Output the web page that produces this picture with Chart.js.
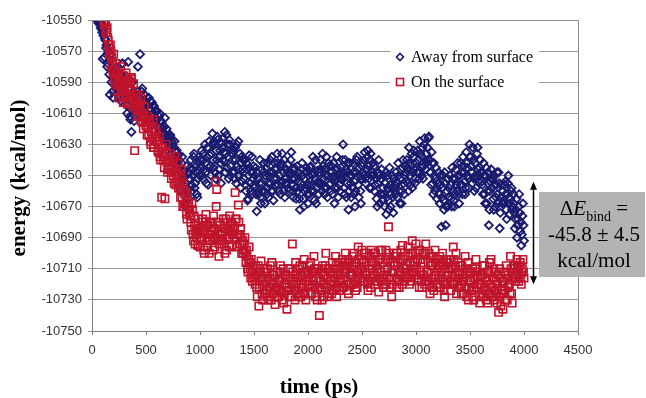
<!DOCTYPE html>
<html>
<head>
<meta charset="utf-8">
<script src="https://cdn.jsdelivr.net/npm/chart.js@4.4.1/dist/chart.umd.min.js"></script>
<style>
  html, body { margin: 0; padding: 0; background: #fff; }
  #wrap { width: 646px; height: 398px; }
</style>
</head>
<body>
<div id="wrap"><canvas id="energy" width="646" height="398"></canvas></div>
<script>
// axes
const xTicks = [0, 500, 1000, 1500, 2000, 2500, 3000, 3500, 4000, 4500];
const yTicks = [-10750, -10730, -10710, -10690, -10670, -10650, -10630, -10610, -10590, -10570, -10550];
const xTitle = 'time (ps)';
const yTitle = 'energy (kcal/mol)';

// sampling of both runs (ps)
const sampleStep = 5;

// "Away from surface" energies, one row per 100 ps, starting at 50 ps
const awayStart = 50;
const awayEnergy = [
  -10550, -10551, -10552, -10550, -10551, -10553, -10555, -10552, -10556, -10558, -10575,
  -10560, -10556, -10574, -10562, -10563, -10568, -10566, -10580, -10578, -10571, -10570, -10585, -10598, -10576, -10572, -10590, -10582, -10596, -10600, -10584,
  -10584, -10590, -10592, -10581, -10580, -10595, -10589, -10584, -10596, -10600, -10585, -10591, -10602, -10587, -10590, -10578, -10578, -10598, -10594, -10588,
  -10598, -10592, -10586, -10605, -10610, -10598, -10577, -10588, -10594, -10612, -10614, -10600, -10622, -10608, -10590, -10596, -10603, -10615, -10608, -10600,
  -10598, -10610, -10605, -10596, -10580, -10604, -10611, -10600, -10572, -10609, -10601, -10596, -10594, -10606, -10608, -10612, -10598, -10602, -10603, -10610,
  -10604, -10610, -10612, -10600, -10600, -10614, -10607, -10602, -10615, -10608, -10603, -10617, -10610, -10605, -10606, -10613, -10617, -10608, -10609, -10614,
  -10614, -10618, -10620, -10612, -10610, -10622, -10623, -10615, -10616, -10620, -10626, -10618, -10619, -10624, -10613, -10627, -10624, -10620, -10628, -10625,
  -10627, -10630, -10632, -10625, -10624, -10633, -10636, -10628, -10630, -10638, -10641, -10632, -10628, -10640, -10638, -10635, -10634, -10644, -10642, -10637,
  -10640, -10645, -10648, -10660, -10655, -10642, -10638, -10652, -10662, -10648, -10650, -10668, -10670, -10655, -10644, -10660, -10658, -10649, -10665, -10672,
  -10652, -10645, -10640, -10656, -10660, -10650, -10646, -10638, -10636, -10658, -10655, -10644, -10648, -10662, -10664, -10652, -10642, -10647, -10650, -10640,
  -10645, -10640, -10634, -10650, -10652, -10636, -10640, -10646, -10630, -10642, -10648, -10655, -10638, -10632, -10656, -10645, -10628, -10637, -10644, -10650,
  -10636, -10630, -10623, -10640, -10645, -10628, -10630, -10648, -10652, -10634, -10640, -10625, -10627, -10650, -10646, -10638, -10634, -10642, -10655, -10629,
  -10632, -10640, -10626, -10635, -10641, -10622, -10648, -10636, -10624, -10645, -10638, -10630, -10652, -10627, -10630, -10650, -10644, -10633, -10636, -10648,
  -10640, -10634, -10648, -10652, -10632, -10640, -10655, -10630, -10644, -10650, -10628, -10646, -10650, -10636, -10658, -10642, -10638, -10654, -10646, -10640,
  -10652, -10645, -10640, -10656, -10660, -10642, -10646, -10666, -10665, -10650, -10637, -10645, -10655, -10660, -10648, -10638, -10662, -10652, -10644, -10656,
  -10658, -10650, -10645, -10662, -10673, -10648, -10652, -10660, -10662, -10655, -10640, -10664, -10668, -10646, -10655, -10660, -10648, -10642, -10660, -10668,
  -10650, -10645, -10658, -10662, -10642, -10655, -10664, -10650, -10648, -10640, -10655, -10660, -10638, -10648, -10660, -10666, -10652, -10642, -10646, -10656,
  -10645, -10652, -10636, -10642, -10656, -10660, -10650, -10644, -10662, -10655, -10642, -10636, -10654, -10660, -10648, -10640, -10664, -10655, -10652, -10646,
  -10655, -10648, -10643, -10658, -10660, -10650, -10648, -10640, -10635, -10656, -10652, -10660, -10664, -10646, -10645, -10652, -10658, -10665, -10650, -10644,
  -10660, -10654, -10648, -10665, -10672, -10658, -10655, -10646, -10642, -10650, -10665, -10670, -10652, -10660, -10658, -10648, -10645, -10656, -10662, -10668,
  -10650, -10656, -10662, -10645, -10644, -10660, -10656, -10650, -10638, -10648, -10660, -10666, -10652, -10640, -10668, -10658, -10647, -10654, -10655, -10662,
  -10648, -10655, -10640, -10646, -10655, -10660, -10636, -10644, -10652, -10658, -10662, -10650, -10645, -10638, -10658, -10664, -10650, -10642, -10644, -10656,
  -10655, -10660, -10648, -10644, -10662, -10652, -10642, -10650, -10668, -10658, -10652, -10646, -10638, -10645, -10658, -10664, -10650, -10656, -10660, -10652,
  -10645, -10650, -10652, -10640, -10630, -10648, -10658, -10662, -10640, -10646, -10664, -10655, -10648, -10642, -10672, -10660, -10642, -10650, -10655, -10664,
  -10650, -10658, -10642, -10648, -10662, -10654, -10670, -10660, -10648, -10640, -10638, -10646, -10656, -10664, -10645, -10650, -10660, -10668, -10652, -10644,
  -10642, -10648, -10650, -10640, -10635, -10652, -10655, -10646, -10646, -10638, -10634, -10644, -10652, -10658, -10640, -10636, -10658, -10650, -10648, -10642,
  -10650, -10644, -10660, -10656, -10645, -10652, -10665, -10670, -10655, -10648, -10640, -10650, -10668, -10662, -10652, -10646, -10662, -10666, -10658, -10650,
  -10662, -10670, -10655, -10648, -10675, -10664, -10650, -10658, -10666, -10672, -10645, -10656, -10670, -10662, -10658, -10650, -10664, -10674, -10652, -10660,
  -10656, -10662, -10648, -10654, -10664, -10655, -10642, -10650, -10660, -10668, -10652, -10646, -10668, -10660, -10645, -10640, -10655, -10662, -10650, -10644,
  -10648, -10654, -10640, -10645, -10655, -10660, -10632, -10642, -10650, -10656, -10644, -10636, -10658, -10648, -10638, -10634, -10646, -10655, -10652, -10645,
  -10642, -10648, -10634, -10640, -10648, -10652, -10628, -10636, -10645, -10650, -10638, -10632, -10652, -10644, -10630, -10626, -10640, -10646, -10636, -10642,
  -10632, -10640, -10626, -10625, -10640, -10648, -10648, -10656, -10635, -10642, -10655, -10662, -10642, -10650, -10660, -10652, -10645, -10658, -10665, -10655,
  -10655, -10648, -10662, -10668, -10650, -10656, -10683, -10664, -10658, -10650, -10666, -10672, -10648, -10655, -10682, -10670, -10660, -10652, -10670, -10664,
  -10658, -10664, -10650, -10656, -10665, -10670, -10645, -10652, -10660, -10666, -10670, -10662, -10652, -10646, -10656, -10660, -10642, -10650, -10662, -10668,
  -10650, -10656, -10642, -10648, -10656, -10662, -10638, -10644, -10648, -10654, -10662, -10658, -10635, -10642, -10645, -10650, -10652, -10658, -10630, -10638,
  -10638, -10644, -10648, -10655, -10632, -10640, -10652, -10660, -10642, -10650, -10658, -10652, -10636, -10632, -10646, -10654, -10650, -10645, -10640, -10648,
  -10648, -10654, -10656, -10662, -10642, -10650, -10662, -10668, -10650, -10645, -10668, -10660, -10655, -10648, -10682, -10672, -10660, -10654, -10646, -10652,
  -10658, -10652, -10665, -10672, -10650, -10656, -10670, -10664, -10656, -10648, -10662, -10668, -10648, -10655, -10684, -10674, -10664, -10656, -10660, -10668,
  -10660, -10666, -10668, -10656, -10654, -10662, -10672, -10678, -10662, -10655, -10650, -10664, -10675, -10668, -10665, -10660, -10658, -10672, -10670, -10662,
  -10668, -10674, -10684, -10678, -10672, -10665, -10690, -10682, -10678, -10670, -10662, -10674, -10686, -10680, -10695, -10688, -10676, -10668, -10682, -10692
];

// "On the surface" energies, one row per 100 ps, starting at 110 ps
const onStart = 110;
const onEnergy = [
  -10550, -10552, -10553, -10551, -10558, -10556, -10555, -10561, -10563, -10566, -10568, -10572, -10566, -10570, -10574, -10580, -10578, -10584, -10572,
  -10582, -10588, -10590, -10578, -10585, -10592, -10596, -10584, -10588, -10600, -10600, -10590, -10580, -10596, -10593, -10586, -10598, -10603, -10586, -10592,
  -10592, -10598, -10584, -10590, -10598, -10604, -10589, -10595, -10603, -10594, -10595, -10588, -10587, -10600, -10600, -10606, -10591, -10598, -10634, -10605,
  -10602, -10598, -10608, -10612, -10598, -10604, -10612, -10606, -10605, -10600, -10615, -10610, -10610, -10616, -10620, -10612, -10606, -10614, -10614, -10618,
  -10618, -10624, -10612, -10620, -10624, -10615, -10616, -10628, -10630, -10622, -10620, -10626, -10614, -10632, -10632, -10622, -10626, -10620, -10622, -10628,
  -10628, -10634, -10635, -10630, -10625, -10638, -10640, -10632, -10664, -10636, -10632, -10640, -10638, -10645, -10665, -10640, -10630, -10636, -10642, -10648,
  -10640, -10646, -10646, -10640, -10636, -10648, -10652, -10645, -10644, -10640, -10650, -10655, -10638, -10646, -10656, -10650, -10648, -10654, -10642, -10658,
  -10650, -10655, -10658, -10664, -10646, -10652, -10664, -10670, -10655, -10660, -10670, -10662, -10660, -10668, -10675, -10678, -10662, -10670, -10668, -10674,
  -10672, -10676, -10680, -10685, -10668, -10672, -10688, -10692, -10676, -10682, -10694, -10688, -10682, -10690, -10686, -10695, -10678, -10684, -10690, -10696,
  -10684, -10690, -10692, -10680, -10678, -10686, -10698, -10700, -10686, -10680, -10675, -10682, -10690, -10696, -10682, -10688, -10700, -10692, -10688, -10680,
  -10680, -10686, -10690, -10698, -10676, -10684, -10696, -10690, -10654, -10670, -10659, -10680, -10686, -10692, -10702, -10694, -10682, -10688, -10692, -10686,
  -10688, -10692, -10678, -10684, -10694, -10700, -10684, -10678, -10698, -10690, -10680, -10686, -10690, -10696, -10676, -10682, -10686, -10680, -10695, -10688,
  -10682, -10688, -10690, -10684, -10661, -10678, -10678, -10690, -10696, -10688, -10669, -10680, -10688, -10694, -10684, -10690, -10700, -10694, -10692, -10700,
  -10698, -10694, -10690, -10700, -10706, -10698, -10702, -10710, -10712, -10704, -10696, -10706, -10710, -10716, -10704, -10712, -10718, -10710, -10708, -10716,
  -10715, -10720, -10708, -10714, -10722, -10728, -10712, -10708, -10734, -10722, -10718, -10712, -10705, -10716, -10726, -10730, -10716, -10710, -10720, -10726,
  -10718, -10712, -10724, -10728, -10710, -10716, -10730, -10722, -10716, -10708, -10722, -10730, -10706, -10714, -10726, -10720, -10714, -10722, -10733, -10724,
  -10722, -10728, -10712, -10718, -10728, -10724, -10718, -10712, -10708, -10716, -10725, -10730, -10716, -10710, -10732, -10726, -10720, -10714, -10714, -10722,
  -10736, -10724, -10716, -10710, -10722, -10728, -10710, -10716, -10728, -10720, -10694, -10712, -10718, -10724, -10724, -10730, -10706, -10714, -10720, -10726,
  -10716, -10710, -10722, -10728, -10708, -10714, -10728, -10722, -10714, -10708, -10720, -10726, -10704, -10712, -10726, -10730, -10718, -10712, -10712, -10720,
  -10714, -10708, -10720, -10726, -10706, -10712, -10726, -10720, -10712, -10718, -10702, -10710, -10722, -10728, -10716, -10710, -10730, -10722, -10710, -10716,
  -10740, -10722, -10718, -10712, -10724, -10730, -10708, -10714, -10728, -10720, -10714, -10708, -10700, -10710, -10722, -10728, -10716, -10710, -10726, -10720,
  -10712, -10718, -10720, -10726, -10706, -10712, -10724, -10718, -10716, -10710, -10702, -10708, -10728, -10722, -10714, -10706, -10718, -10724, -10710, -10716,
  -10716, -10722, -10708, -10704, -10722, -10716, -10712, -10706, -10700, -10710, -10718, -10724, -10710, -10704, -10726, -10720, -10706, -10712, -10714, -10720,
  -10708, -10702, -10714, -10720, -10700, -10706, -10718, -10724, -10706, -10712, -10722, -10716, -10696, -10704, -10712, -10718, -10716, -10710, -10704, -10698,
  -10712, -10718, -10706, -10700, -10718, -10712, -10700, -10706, -10714, -10720, -10724, -10718, -10708, -10702, -10716, -10722, -10698, -10706, -10710, -10716,
  -10706, -10700, -10714, -10720, -10700, -10708, -10718, -10712, -10710, -10704, -10725, -10716, -10704, -10698, -10712, -10718, -10698, -10706, -10716, -10722,
  -10714, -10720, -10704, -10698, -10720, -10714, -10710, -10704, -10683, -10700, -10716, -10722, -10706, -10712, -10728, -10720, -10712, -10706, -10700, -10708,
  -10708, -10702, -10716, -10722, -10700, -10706, -10712, -10718, -10722, -10714, -10704, -10698, -10714, -10720, -10695, -10704, -10710, -10716, -10718, -10712,
  -10702, -10708, -10710, -10716, -10696, -10702, -10714, -10720, -10706, -10700, -10718, -10712, -10692, -10700, -10708, -10714, -10712, -10706, -10700, -10694,
  -10710, -10716, -10704, -10698, -10716, -10722, -10698, -10704, -10712, -10718, -10722, -10714, -10706, -10700, -10714, -10720, -10700, -10694, -10718, -10712,
  -10712, -10718, -10706, -10700, -10720, -10726, -10702, -10708, -10716, -10722, -10708, -10702, -10724, -10716, -10698, -10706, -10714, -10720, -10710, -10704,
  -10716, -10722, -10708, -10702, -10722, -10716, -10712, -10706, -10700, -10708, -10718, -10724, -10728, -10720, -10710, -10704, -10714, -10720, -10706, -10712,
  -10710, -10704, -10718, -10724, -10704, -10710, -10714, -10720, -10696, -10704, -10720, -10714, -10708, -10700, -10726, -10718, -10712, -10706, -10716, -10722,
  -10714, -10708, -10720, -10726, -10708, -10714, -10726, -10718, -10716, -10722, -10702, -10710, -10722, -10728, -10712, -10706, -10730, -10722, -10718, -10712,
  -10718, -10712, -10724, -10728, -10710, -10716, -10730, -10722, -10716, -10710, -10704, -10712, -10722, -10716, -10714, -10720, -10728, -10732, -10720, -10714,
  -10720, -10726, -10714, -10708, -10728, -10722, -10708, -10716, -10724, -10730, -10718, -10712, -10732, -10726, -10712, -10706, -10726, -10720, -10704, -10712,
  -10722, -10728, -10716, -10710, -10730, -10724, -10712, -10718, -10726, -10732, -10720, -10714, -10738, -10728, -10710, -10716, -10734, -10726, -10724, -10718,
  -10736, -10726, -10718, -10712, -10724, -10730, -10708, -10716, -10730, -10722, -10714, -10720, -10720, -10726, -10702, -10710, -10726, -10732, -10716, -10710,
  -10714, -10708, -10708, -10716, -10718, -10712, -10704, -10710, -10712, -10718, -10716, -10708, -10706, -10714, -10720, -10712, -10710, -10704, -10712, -10716
];

const seriesNames = ['Away from surface', 'On the surface'];
const seriesColors = ['#1a1a6e', '#c0142c'];

// binding energy note and the arrow between the two plateaus
const bindValue = '-45.8 \u00b1 4.5';
const bindUnit = 'kcal/mol';
const arrowTime = 4080;
const arrowTop = -10654;
const arrowBottom = -10720;

function toPoints(start, values) {
  return values.map((v, i) => ({ x: start + i * sampleStep, y: v }));
}

Chart.defaults.font.family = '"Liberation Sans", Arial, sans-serif';
const serif = '"Liberation Serif", "Times New Roman", serif';

const extras = {
  id: 'extras',
  afterDraw(chart) {
    const { ctx, chartArea: a, scales: { x, y } } = chart;
    ctx.save();

    // plot area frame
    ctx.strokeStyle = '#8c8c8c';
    ctx.lineWidth = 1;
    ctx.beginPath();
    ctx.moveTo(a.left, a.top + 0.5);
    ctx.lineTo(a.right + 0.5, a.top + 0.5);
    ctx.lineTo(a.right + 0.5, a.bottom);
    ctx.stroke();

    // axis titles
    ctx.fillStyle = '#000';
    ctx.font = 'bold 21px ' + serif;
    ctx.textAlign = 'center';
    ctx.textBaseline = 'middle';
    ctx.fillText(xTitle, 319, 388);
    ctx.save();
    ctx.translate(20, 178);
    ctx.rotate(-Math.PI / 2);
    ctx.fillText(yTitle, 0, 0);
    ctx.restore();

    // legend
    ctx.fillStyle = '#fff';
    ctx.fillRect(390, 37, 149, 60);
    ctx.font = '16px ' + serif;
    ctx.textAlign = 'left';
    ctx.textBaseline = 'middle';
    const rows = [57, 82];
    ctx.lineWidth = 1.6;
    // diamond
    ctx.strokeStyle = seriesColors[0];
    ctx.beginPath();
    ctx.moveTo(400 - 3.5, rows[0]);
    ctx.lineTo(400, rows[0] - 3.5);
    ctx.lineTo(400 + 3.5, rows[0]);
    ctx.lineTo(400, rows[0] + 3.5);
    ctx.closePath();
    ctx.stroke();
    // square
    ctx.strokeStyle = seriesColors[1];
    ctx.strokeRect(396.5, rows[1] - 3.5, 7, 7);
    ctx.fillStyle = '#000';
    ctx.fillText(seriesNames[0], 411, rows[0] + 1);
    ctx.fillText(seriesNames[1], 411, rows[1] + 1);

    // double arrow
    const ax = Math.round(x.getPixelForValue(arrowTime)) + 0.5;
    const y1 = y.getPixelForValue(arrowTop);
    const y2 = y.getPixelForValue(arrowBottom);
    ctx.strokeStyle = '#000';
    ctx.fillStyle = '#000';
    ctx.lineWidth = 1.5;
    ctx.beginPath();
    ctx.moveTo(ax, y1 + 6);
    ctx.lineTo(ax, y2 - 6);
    ctx.stroke();
    ctx.beginPath();
    ctx.moveTo(ax, y1);
    ctx.lineTo(ax - 3.5, y1 + 8);
    ctx.lineTo(ax + 3.5, y1 + 8);
    ctx.closePath();
    ctx.fill();
    ctx.beginPath();
    ctx.moveTo(ax, y2);
    ctx.lineTo(ax - 3.5, y2 - 8);
    ctx.lineTo(ax + 3.5, y2 - 8);
    ctx.closePath();
    ctx.fill();

    // note box
    ctx.fillStyle = '#b3b3b3';
    ctx.fillRect(539, 192, 106, 85);
    ctx.fillStyle = '#000';
    const cx = 594;
    ctx.textBaseline = 'alphabetic';
    const f = '21px ' + serif;
    const fi = 'italic 21px ' + serif;
    const fs = '14px ' + serif;
    ctx.font = f;
    const wD = ctx.measureText('\u0394').width;
    const wEq = ctx.measureText(' =').width;
    ctx.font = fi;
    const wE = ctx.measureText('E').width;
    ctx.font = fs;
    const wB = ctx.measureText('bind').width;
    let px = cx - (wD + wE + wB + wEq) / 2;
    ctx.textAlign = 'left';
    ctx.font = f;
    ctx.fillText('\u0394', px, 215); px += wD;
    ctx.font = fi;
    ctx.fillText('E', px, 215); px += wE;
    ctx.font = fs;
    ctx.fillText('bind', px, 221); px += wB;
    ctx.font = f;
    ctx.fillText(' =', px, 215);
    ctx.textAlign = 'center';
    ctx.fillText(bindValue, cx, 241);
    ctx.fillText(bindUnit, cx, 267);

    ctx.restore();
  }
};

new Chart(document.getElementById('energy'), {
  type: 'scatter',
  data: {
    datasets: [
      {
        label: seriesNames[0],
        data: toPoints(awayStart, awayEnergy),
        pointStyle: 'rectRot',
        pointRadius: 4,
        borderWidth: 1.8,
        borderColor: seriesColors[0],
        backgroundColor: 'rgba(0,0,0,0)',
        order: 1
      },
      {
        label: seriesNames[1],
        data: toPoints(onStart, onEnergy),
        pointStyle: 'rect',
        pointRadius: 5.2,
        borderWidth: 1.6,
        borderColor: seriesColors[1],
        backgroundColor: 'rgba(0,0,0,0)',
        order: 0
      }
    ]
  },
  options: {
    responsive: false,
    animation: false,
    devicePixelRatio: 1,
    layout: { padding: { top: 20, right: 68, bottom: 0, left: 0 } },
    plugins: { legend: { display: false }, tooltip: { enabled: false } },
    scales: {
      x: {
        type: 'linear',
        min: xTicks[0],
        max: xTicks[xTicks.length - 1],
        afterFit: (s) => { s.height = 67; },
        afterBuildTicks: (s) => { s.ticks = xTicks.map((v) => ({ value: v })); },
        ticks: { color: '#333', font: { size: 13 }, padding: 8, maxRotation: 0, callback: (v) => String(v) },
        grid: { drawOnChartArea: false, drawTicks: true, tickLength: 4, color: '#808080' },
        border: { color: '#808080', width: 1 }
      },
      y: {
        type: 'linear',
        min: yTicks[0],
        max: yTicks[yTicks.length - 1],
        afterFit: (s) => { s.width = 92; },
        afterBuildTicks: (s) => { s.ticks = yTicks.map((v) => ({ value: v })); },
        ticks: { color: '#333', font: { size: 13 }, padding: 6, callback: (v) => String(v) },
        grid: { color: '#999', lineWidth: 1, tickLength: 4 },
        border: { color: '#808080', width: 1 }
      }
    }
  },
  plugins: [extras]
});
</script>
</body>
</html>
